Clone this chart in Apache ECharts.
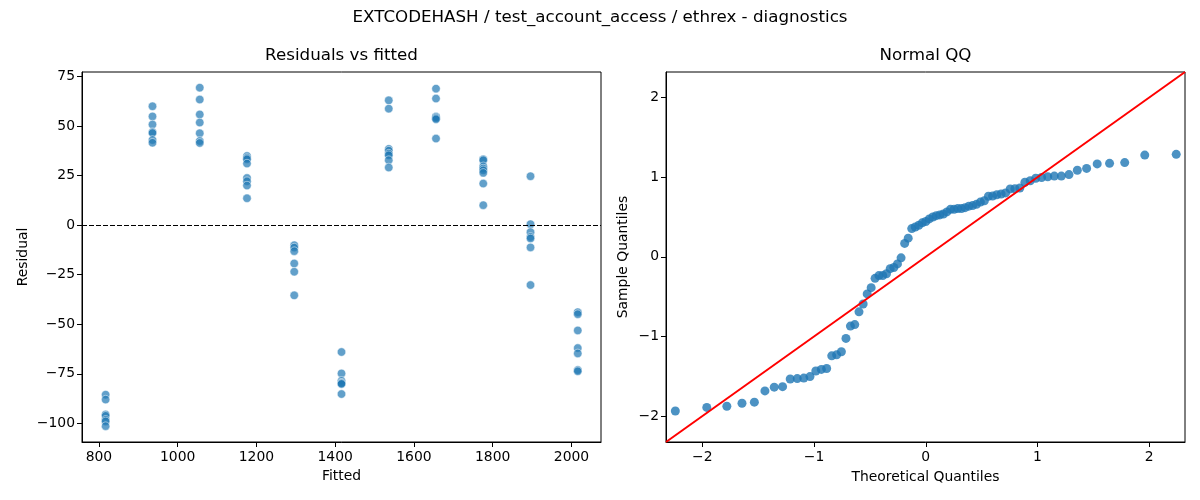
<!DOCTYPE html>
<html>
<head>
    <meta charset="utf-8">
    <title>EXTCODEHASH diagnostics</title>
    <script src="https://cdn.jsdelivr.net/npm/echarts@6/dist/echarts.min.js"></script>
    <style>
        html, body {
            margin: 0;
            padding: 0;
            background: #ffffff;
        }

        #chart {
            width: 1200px;
            height: 500px;
        }
    </style>
</head>
<body>
<div id="chart"></div>
<script>
    // fitted levels (x of each vertical strip)
    var fitted = [817, 936, 1056, 1176, 1296, 1416, 1536, 1656, 1776, 1896, 2016];

    // residuals read per fitted level
    var res817 = [-85.5, -88.0, -95.5, -96.2, -98.2, -99.0, -101.4];
    var res936 = [60.0, 54.9, 50.8, 47.0, 46.5, 43.0, 41.6];
    var res1056 = [69.4, 63.4, 55.9, 51.8, 46.4, 42.5, 41.5];
    var res1176 = [34.9, 33.9, 33.3, 31.1, 23.8, 22.2, 20.0, 13.6];
    var res1296 = [-10.1, -11.3, -13.1, -19.3, -23.5, -35.4];
    var res1416 = [-64.0, -74.8, -78.5, -79.5, -79.8, -80.1, -85.2];
    var res1536 = [63.0, 58.8, 38.5, 37.6, 36.1, 35.3, 32.8, 29.1];
    var res1656 = [68.9, 63.9, 54.9, 54.5, 54.0, 53.5, 43.7];
    var res1776 = [33.3, 32.8, 29.7, 28.6, 27.7, 26.4, 21.0, 10.1];
    var res1896 = [24.7, 0.5, -3.5, -5.9, -6.7, -11.2, -30.2];
    var res2016 = [-43.9, -44.9, -53.1, -62.0, -64.7, -73.1, -73.7];

    var residualGroups = [res817, res936, res1056, res1176, res1296, res1416,
        res1536, res1656, res1776, res1896, res2016];

    // tick labels
    var fittedTicks = [800, 1000, 1200, 1400, 1600, 1800, 2000];
    var residTicks = [-100, -75, -50, -25, 0, 25, 50, 75];
    var qqTicks = [-2, -1, 0, 1, 2];

    // axis limits
    var fittedRange = [757, 2075];
    var residRange = [-109.4, 77.3];
    var qqRange = [-2.325, 2.32];

    // inverse normal cdf (Acklam)
    function normPpf(p) {
        var a = [-3.969683028665376e+01, 2.209460984245205e+02, -2.759285104469687e+02,
            1.383577518672690e+02, -3.066479806614716e+01, 2.506628277459239e+00];
        var b = [-5.447609879822406e+01, 1.615858368580409e+02, -1.556989798598866e+02,
            6.680131188771972e+01, -1.328068155288572e+01];
        var c = [-7.784894002430293e-03, -3.223964580411365e-01, -2.400758277161838e+00,
            -2.549732539343734e+00, 4.374664141464968e+00, 2.938163982698783e+00];
        var d = [7.784695709041462e-03, 3.224671290700398e-01, 2.445134137142996e+00,
            3.754408661907416e+00];
        var plow = 0.02425, q, r;
        if (p < plow) {
            q = Math.sqrt(-2 * Math.log(p));
            return (((((c[0] * q + c[1]) * q + c[2]) * q + c[3]) * q + c[4]) * q + c[5]) /
                ((((d[0] * q + d[1]) * q + d[2]) * q + d[3]) * q + 1);
        }
        if (p > 1 - plow) {
            q = Math.sqrt(-2 * Math.log(1 - p));
            return -(((((c[0] * q + c[1]) * q + c[2]) * q + c[3]) * q + c[4]) * q + c[5]) /
                ((((d[0] * q + d[1]) * q + d[2]) * q + d[3]) * q + 1);
        }
        q = p - 0.5;
        r = q * q;
        return (((((a[0] * r + a[1]) * r + a[2]) * r + a[3]) * r + a[4]) * r + a[5]) * q /
            (((((b[0] * r + b[1]) * r + b[2]) * r + b[3]) * r + b[4]) * r + 1);
    }

    // scatter points for the left panel
    var residPoints = [];
    var allRes = [];
    residualGroups.forEach(function (g, i) {
        g.forEach(function (v) {
            residPoints.push([fitted[i], v]);
            allRes.push(v);
        });
    });

    // QQ points: standardized sorted residuals vs normal quantiles
    var n = allRes.length;
    var mean = allRes.reduce(function (s, v) { return s + v; }, 0) / n;
    var sd = Math.sqrt(allRes.reduce(function (s, v) { return s + (v - mean) * (v - mean); }, 0) / n);
    var sorted = allRes.slice().sort(function (x, y) { return x - y; });
    var qqPoints = sorted.map(function (v, i) {
        return [normPpf((i + 1) / (n + 1)), (v - mean) / sd];
    });

    function minus(v) {
        return String(v).replace('-', '\u2212');
    }

    var font = 'DejaVu Sans';

    function valueAxis(gridIndex, range, ticks, name, gap, isY) {
        return {
            type: 'value',
            gridIndex: gridIndex,
            min: range[0],
            max: range[1],
            name: name,
            nameLocation: 'middle',
            nameGap: gap,
            nameTextStyle: {fontFamily: font, fontSize: 13.9, color: '#000'},
            axisLine: {show: true, onZero: false, lineStyle: {color: '#000', width: 1}},
            axisTick: {
                show: true, inside: false, length: 5,
                lineStyle: {color: '#000', width: 1},
                customValues: ticks
            },
            axisLabel: {
                show: true, color: '#000', fontFamily: font, fontSize: 13.9,
                margin: isY ? 7 : 8,
                customValues: ticks,
                formatter: minus
            },
            splitLine: {show: false}
        };
    }

    var chart = echarts.init(document.getElementById('chart'), null, {renderer: 'canvas'});

    var option = {
        backgroundColor: '#ffffff',
        animation: false,
        textStyle: {fontFamily: font},
        graphic: [
            {
                type: 'text', x: 600, y: 18,
                style: {
                    text: 'EXTCODEHASH / test_account_access / ethrex - diagnostics',
                    fontFamily: font, fontSize: 16.7, fill: '#000',
                    align: 'center', verticalAlign: 'middle'
                }
            },
            {
                type: 'text', x: 341.5, y: 56,
                style: {
                    text: 'Residuals vs fitted', fontFamily: font, fontSize: 16.7, fill: '#000',
                    align: 'center', verticalAlign: 'middle'
                }
            },
            {
                type: 'text', x: 925.5, y: 56,
                style: {
                    text: 'Normal QQ', fontFamily: font, fontSize: 16.7, fill: '#000',
                    align: 'center', verticalAlign: 'middle'
                }
            }
        ],
        grid: [
            {left: 82, top: 72, width: 519, height: 370, show: true, borderColor: '#000', borderWidth: 1},
            {left: 666, top: 72, width: 519, height: 370, show: true, borderColor: '#000', borderWidth: 1}
        ],
        xAxis: [
            valueAxis(0, fittedRange, fittedTicks, 'Fitted', 27, false),
            valueAxis(1, qqRange, qqTicks, 'Theoretical Quantiles', 28, false)
        ],
        yAxis: [
            valueAxis(0, residRange, residTicks, 'Residual', 52, true),
            valueAxis(1, qqRange, qqTicks, 'Sample Quantiles', 36, true)
        ],
        series: [
            {
                type: 'scatter',
                xAxisIndex: 0,
                yAxisIndex: 0,
                symbolSize: 8.5,
                data: residPoints,
                itemStyle: {color: '#1f77b4', opacity: 0.7, borderColor: '#ffffff', borderWidth: 0.7},
                markLine: {
                    silent: true,
                    symbol: 'none',
                    label: {show: false},
                    lineStyle: {color: '#000', width: 1, type: [5, 2]},
                    data: [{yAxis: 0}]
                },
                z: 3
            },
            {
                type: 'scatter',
                xAxisIndex: 1,
                yAxisIndex: 1,
                symbolSize: 9,
                data: qqPoints,
                itemStyle: {color: '#1f77b4'},
                z: 3
            },
            {
                // 45 degree reference line across the axis limits
                type: 'line',
                xAxisIndex: 1,
                yAxisIndex: 1,
                data: [[qqRange[0], qqRange[0]], [qqRange[1], qqRange[1]]],
                symbol: 'none',
                lineStyle: {color: '#ff0000', width: 2},
                z: 4
            }
        ]
    };
    chart.setOption(option);
</script>
</body>
</html>
